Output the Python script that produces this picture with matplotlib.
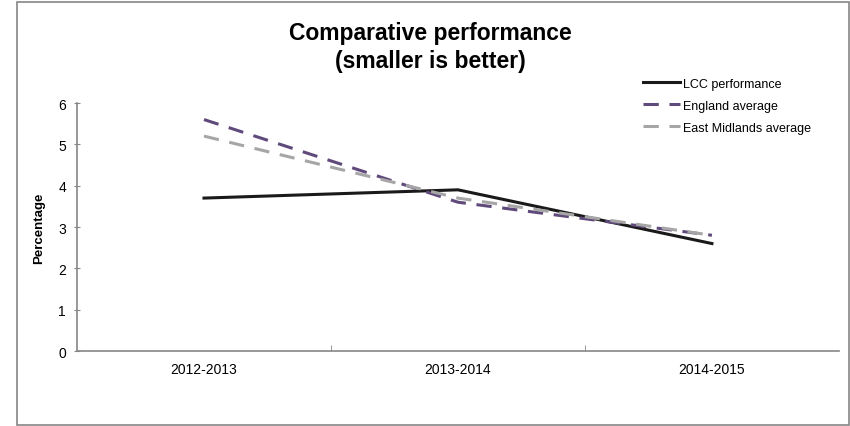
import matplotlib
matplotlib.use("Agg")
import matplotlib.pyplot as plt
from matplotlib.patches import Rectangle

plt.rcParams['font.family'] = ['Liberation Sans', 'DejaVu Sans']

# datos del grafico
periodos = ["2012-2013", "2013-2014", "2014-2015"]
lcc = [3.7, 3.9, 2.6]
england = [5.6, 3.6, 2.8]
east_midlands = [5.2, 3.7, 2.8]

fig = plt.figure(figsize=(8.5, 4.27), dpi=100)
ax = fig.add_axes([0.0906, 0.1756, 0.8964, 0.5808])

x = range(len(periodos))
ax.plot(x, lcc, color='#1a1a1a', lw=2.2, label='LCC performance')
ax.plot(x, england, color='#604A7B', lw=2.2, dashes=(5, 3.5), label='England average')
ax.plot(x, east_midlands, color='#A6A6A6', lw=2.2, dashes=(5, 3.5), label='East Midlands average')

ax.set_xlim(-0.5, 2.5)
ax.set_ylim(0, 6)
ax.set_xticks(list(x))
ax.set_xticklabels(periodos, fontsize=10)
ax.set_xticks([0.5, 1.5], minor=True)
ax.tick_params(axis='x', which='major', length=0, pad=8)
ax.tick_params(axis='x', which='minor', length=4, direction='in', color='#868686')
ax.set_yticks(range(7))
ax.tick_params(axis='y', labelsize=10, length=4, direction='inout', color='#868686', pad=6)

for s in ['top', 'right']:
    ax.spines[s].set_visible(False)
for s in ['left', 'bottom']:
    ax.spines[s].set_color('#868686')
    ax.spines[s].set_linewidth(1.2)

ax.set_ylabel("Percentage", fontsize=9.5, fontweight='bold', labelpad=9)

fig.text(0.506, 0.889, "Comparative performance\n(smaller is better)", ha='center', va='center',
         fontsize=16.5, fontweight='bold', linespacing=1.25)

ax.legend(loc='upper left', bbox_to_anchor=(0.736, 1.122), frameon=False, fontsize=9,
          handlelength=3.0, handletextpad=0.2, labelspacing=0.8, borderaxespad=0)

# marco exterior
fig.patches.append(Rectangle((17 / 850, 1 / 427), 832 / 850, 423 / 427, transform=fig.transFigure,
                             fill=False, edgecolor='#868686', lw=1.2))

fig.savefig("out.png", dpi=100)
